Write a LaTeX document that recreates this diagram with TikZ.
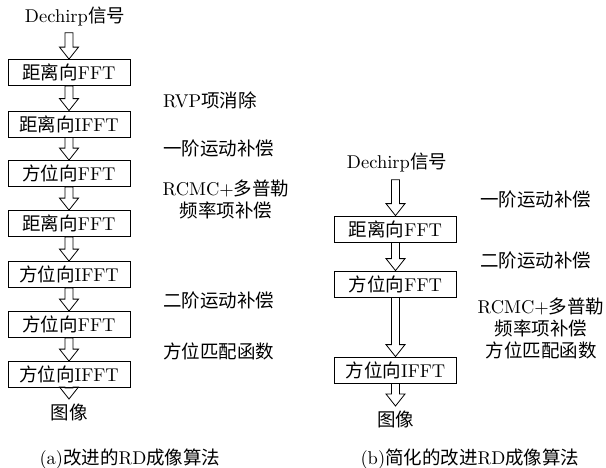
\documentclass[tikz,border=0pt]{standalone}
\usepackage{fontspec}
\setmainfont{lmroman10-regular.otf}
\newfontfamily\cjk{Noto Sans CJK SC}
\newcommand{\zh}[1]{{\cjk #1}}
\newcommand{\harrow}[2]{%
  \draw[line width=0.8pt] let \p1=(#1), \p2=(#2) in
    (\x1-4pt,\y1) -- (\x1-4pt,\y2+12pt) -- (\x1-9.5pt,\y2+12pt) -- (\x1,\y2)
    -- (\x1+9.5pt,\y2+12pt) -- (\x1+4pt,\y2+12pt) -- (\x1+4pt,\y1) -- cycle;}
\usetikzlibrary{calc}
\begin{document}
\begin{tikzpicture}[x=1pt,y=-1pt,
  every node/.style={font=\fontsize{18.5}{22}\selectfont},
  procbox/.style={draw,line width=0.8pt,minimum width=122pt,minimum height=26pt,inner sep=0pt},
  plain/.style={inner sep=1pt},
  lbl/.style={anchor=west,inner sep=0pt}]
\useasboundingbox (0,0) rectangle (606,467);
% ---------- left column ----------
\node[plain] (a0) at (75,17) {Dechirp\zh{信号}};
\node[procbox] (a1) at (69,72.5) {\zh{距离向}FFT};
\node[procbox] (a2) at (69,124) {\zh{距离向}IFFT};
\node[procbox] (a3) at (69,173.5) {\zh{方位向}FFT};
\node[procbox] (a4) at (69,223.5) {\zh{距离向}FFT};
\node[procbox] (a5) at (69,274.5) {\zh{方位向}IFFT};
\node[procbox] (a6) at (69,324.5) {\zh{方位向}FFT};
\node[procbox] (a7) at (69,374.5) {\zh{方位向}IFFT};
\node[plain] (a8) at (69,412) {\zh{图像}};
\coordinate (a0s) at ($(a0.south)+(-6,5)$);
\coordinate (a8n) at ($(a8.center)+(0,-13)$);
\harrow{a0s}{a1.north}
\harrow{a1.south}{a2.north}
\harrow{a2.south}{a3.north}
\harrow{a3.south}{a4.north}
\harrow{a4.south}{a5.north}
\harrow{a5.south}{a6.north}
\harrow{a6.south}{a7.north}
\harrow{a7.south}{a8n}
\node[lbl] (la1) at (163,100) {RVP\zh{项消除}};
\node[lbl] (la2) at (163,148) {\zh{一阶运动补偿}};
\node[align=center,inner sep=0pt] (la3) at (226,199) {RCMC+\zh{多普勒}\\\zh{频率项补偿}};
\node[lbl] (la4) at (163,300) {\zh{二阶运动补偿}};
\node[lbl] (la5) at (163,351) {\zh{方位匹配函数}};
\node[plain] (capa) at (130,459) {(a)\zh{改进的}RD\zh{成像算法}};
% ---------- right column ----------
\node[plain] (b0) at (397,163) {Dechirp\zh{信号}};
\node[procbox] (b1) at (395.5,229) {\zh{距离向}FFT};
\node[procbox] (b2) at (395.5,284) {\zh{方位向}FFT};
\node[procbox] (b3) at (395.5,370) {\zh{方位向}IFFT};
\node[plain] (b4) at (395.5,419) {\zh{图像}};
\coordinate (b0s) at ($(b0.south)+(-1.5,6)$);
\coordinate (b4n) at ($(b4.center)+(0,-13)$);
\harrow{b0s}{b1.north}
\harrow{b1.south}{b2.north}
\harrow{b2.south}{b3.north}
\harrow{b3.south}{b4n}
\node[lbl] (lb1) at (480,199) {\zh{一阶运动补偿}};
\node[lbl] (lb2) at (480,260) {\zh{二阶运动补偿}};
\node[align=center,inner sep=0pt] (lb3) at (541,328) {RCMC+\zh{多普勒}\\\zh{频率项补偿}\\\zh{方位匹配函数}};
\node[plain] (capb) at (470,459) {(b)\zh{简化的改进}RD\zh{成像算法}};
\end{tikzpicture}
\end{document}
